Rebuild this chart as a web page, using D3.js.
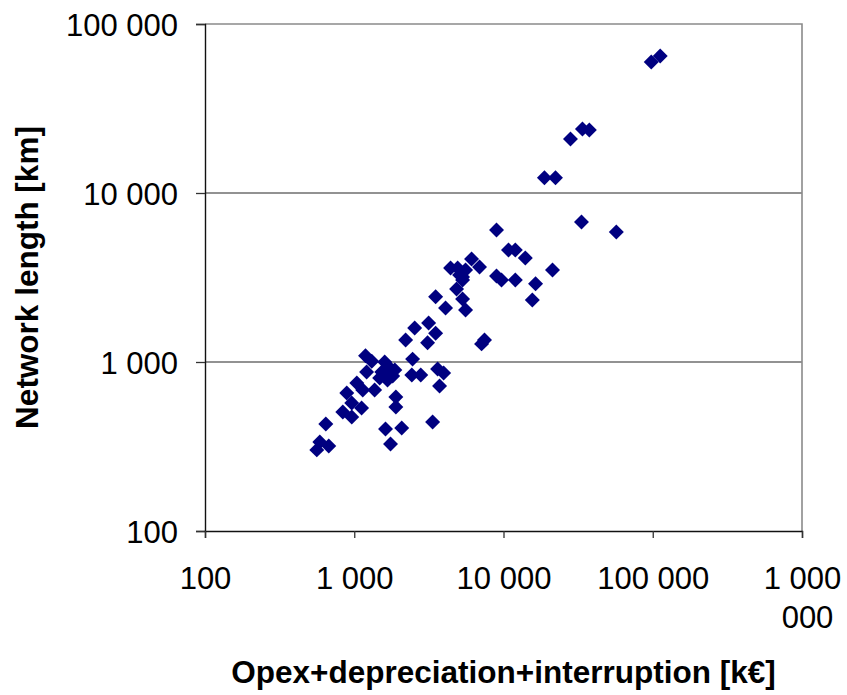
<!DOCTYPE html>
<html>
<head>
<meta charset="utf-8">
<script src="https://cdn.jsdelivr.net/npm/d3@7/dist/d3.min.js"></script>
<style>
  html, body { margin: 0; padding: 0; background: #ffffff; }
  svg { display: block; }
  text { font-family: "Liberation Sans", Arial, sans-serif; fill: #000; }
</style>
</head>
<body>
<svg id="chart" width="847" height="695"></svg>
<script>
// Network operators: total cost (k€) against network length (km)
const costK = [
  97700, 112200, 28100, 33800, 37600, 18800, 22300, 33300, 57000, 14000,
  8980, 10800, 12000, 21300, 16400, 15600, 8980, 9700, 12000, 4420,
  4930, 6110, 6910, 5320, 5570, 5080, 5320, 4850, 5320, 5570,
  3510, 4090, 3150, 3510, 2540, 2210, 3100, 7130, 7460, 2460,
  2430, 2790, 3620, 3970, 3730, 3350, 1190, 1310, 1600, 1730,
  1530, 1810, 1670, 1480, 1870, 1210, 1040, 891, 1140, 1370,
  962, 1120, 838, 962, 1900, 1900, 645, 1620, 2080, 1750,
  588, 561, 675
];
const lengthKm = [
  59600, 64700, 20900, 23900, 23600, 12300, 12300, 6730, 5880, 4130,
  6040, 4600, 4600, 3500, 2900, 2330, 3230, 3060, 3060, 3600,
  3600, 4070, 3650, 3180, 3500, 3270, 3060, 2700, 2360, 2030,
  2430, 2090, 1700, 1480, 1590, 1350, 1300, 1280, 1350, 1040,
  838, 838, 909, 861, 721, 442, 1090, 1010, 1000, 922,
  873, 826, 782, 804, 897, 873, 751, 656, 683, 683,
  572, 535, 506, 473, 621, 542, 430, 401, 407, 327,
  336, 302, 318
];

const xTicks = [100, 1000, 10000, 100000, 1000000];
const xTickLabels = [["100"], ["1 000"], ["10 000"], ["100 000"], ["1 000", "000"]];
const yTicks = [100, 1000, 10000, 100000];
const yTickLabels = ["100", "1 000", "10 000", "100 000"];
const xTitle = "Opex+depreciation+interruption [k€]";
const yTitle = "Network length [km]";

const svg = d3.select("#chart");
const plot = { left: 205, right: 802, top: 24, bottom: 531 };

const x = d3.scaleLog().domain([100, 1000000]).range([plot.left, plot.right]);
const y = d3.scaleLog().domain([100, 100000]).range([plot.bottom, plot.top]);

// horizontal gridlines
svg.append("g")
  .selectAll("line")
  .data(yTicks.filter(v => v > 100 && v < 100000))
  .join("line")
  .attr("x1", plot.left).attr("x2", plot.right)
  .attr("y1", d => y(d)).attr("y2", d => y(d))
  .attr("stroke", "#6e6e6e").attr("stroke-width", 1.3);

// top and right frame of the plot area
svg.append("path")
  .attr("d", `M${plot.left},${y(100000)}H${plot.right}V${plot.bottom}`)
  .attr("fill", "none")
  .attr("stroke", "#8a8a8a")
  .attr("stroke-width", 1.6);

// data points as diamonds
const diamond = d3.symbol().type(d3.symbolSquare).size(112);
svg.append("g")
  .selectAll("path")
  .data(costK.map((c, i) => [c, lengthKm[i]]))
  .join("path")
  .attr("d", diamond)
  .attr("transform", d => `translate(${x(d[0])},${y(d[1])}) rotate(45)`)
  .attr("fill", "#000080");

// y axis
const yAxis = svg.append("g")
  .attr("transform", `translate(${plot.left},0)`)
  .call(d3.axisLeft(y).tickValues(yTicks)
    .tickFormat((d, i) => yTickLabels[i]).tickSizeOuter(0).tickSize(9).tickPadding(18));
yAxis.select(".domain").attr("stroke", "#111").attr("stroke-width", 1.4);
yAxis.selectAll(".tick line").attr("stroke", "#333").attr("stroke-width", 1.3);
yAxis.selectAll(".tick text")
  .attr("font-size", 31)
  .attr("font-family", "'Liberation Sans', Arial, sans-serif")
  .attr("dy", "0.36em");

// x axis
const xAxis = svg.append("g")
  .attr("transform", `translate(0,${plot.bottom})`)
  .call(d3.axisBottom(x).tickValues(xTicks)
    .tickFormat(() => "").tickSizeOuter(0).tickSize(7));
xAxis.select(".domain").attr("stroke", "#111").attr("stroke-width", 1.4);
xAxis.selectAll(".tick line").attr("stroke", "#333").attr("stroke-width", 1.3);
xAxis.selectAll(".tick text").remove();
xAxis.selectAll(".tick").each(function (d, i) {
  const t = d3.select(this).append("text")
    .attr("text-anchor", "middle")
    .attr("font-size", 31)
    .attr("font-family", "'Liberation Sans', Arial, sans-serif")
    .attr("y", 58);
  xTickLabels[i].forEach((line, k) => {
    t.append("tspan").attr("x", k === 0 ? 0 : 5).attr("dy", k === 0 ? 0 : 39).text(line);
  });
});

// axis titles
svg.append("text")
  .attr("x", (plot.left + plot.right) / 2)
  .attr("y", 683)
  .attr("text-anchor", "middle")
  .attr("font-size", 31.5)
  .attr("font-weight", "bold")
  .text(xTitle);

svg.append("text")
  .attr("transform", `translate(38,${(plot.top + plot.bottom) / 2}) rotate(-90)`)
  .attr("text-anchor", "middle")
  .attr("font-size", 31.5)
  .attr("font-weight", "bold")
  .text(yTitle);
</script>
</body>
</html>
